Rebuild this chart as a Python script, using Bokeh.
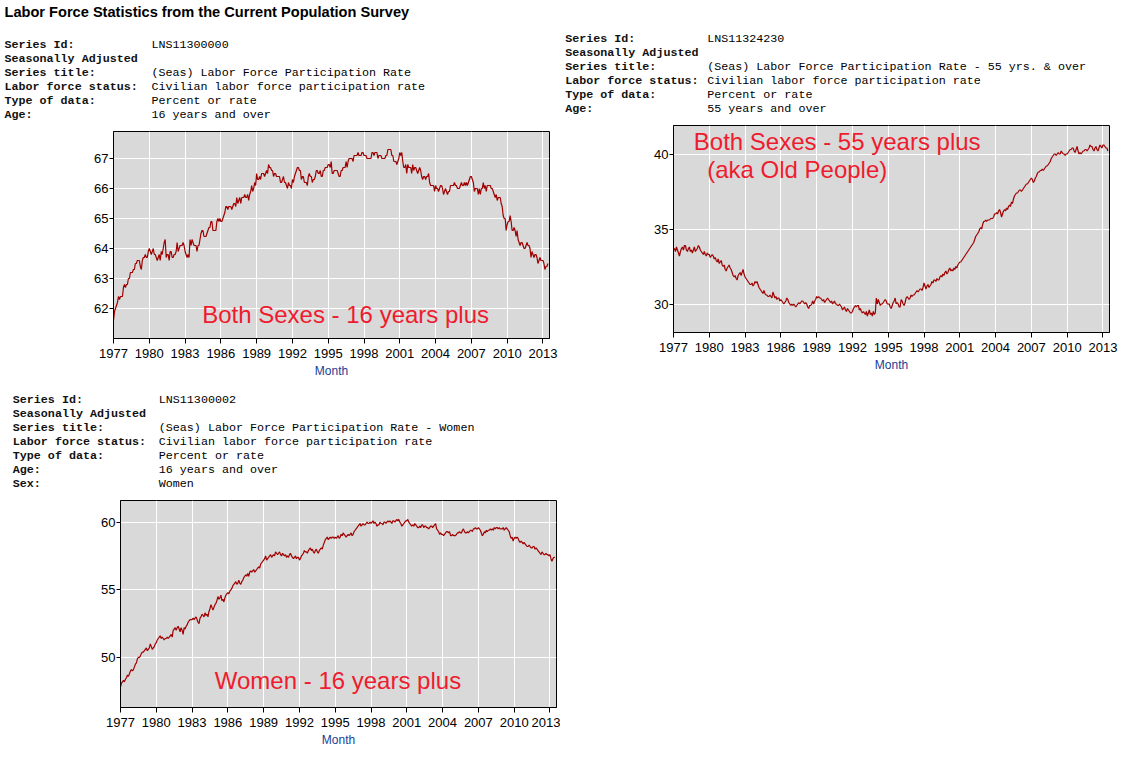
from bokeh.plotting import figure
from bokeh.models import Range1d, FixedTicker, Label, ColumnDataSource, Spacer
from bokeh.layouts import row, column
from bokeh.core.properties import value
from bokeh.embed import file_html
from bokeh.resources import INLINE

# ---------------- data ----------------
START_YEAR = 1977
x_ticks = [1977, 1980, 1983, 1986, 1989, 1992, 1995, 1998, 2001, 2004, 2007, 2010, 2013]

# LNS11300000 - participation rate, 16 years and over (monthly, Jan 1977 - Jun 2013)
all_16plus = [
    61.6, 61.9, 62.0, 62.1, 62.2, 62.4, 62.3, 62.4, 62.4, 62.4, 62.7, 62.8,
    62.7, 62.8, 62.8, 63.0, 63.0, 63.2, 63.2, 63.2, 63.3, 63.3, 63.5, 63.5,
    63.6, 63.6, 63.6, 63.4, 63.3, 63.6, 63.7, 63.7, 63.8, 63.7, 63.7, 63.9,
    64.0, 63.9, 63.8, 63.9, 64.0, 63.8, 63.8, 63.7, 63.6, 63.7, 63.8, 63.6,
    63.9, 63.8, 64.0, 64.2, 64.3, 63.7, 63.8, 63.8, 63.6, 63.9, 63.9, 63.7,
    63.7, 63.8, 63.8, 63.9, 64.2, 63.9, 64.0, 64.1, 64.1, 64.1, 64.2, 64.1,
    63.9, 63.8, 63.7, 63.8, 63.7, 64.3, 64.1, 64.3, 64.2, 64.1, 64.1, 64.1,
    63.9, 64.1, 64.1, 64.3, 64.5, 64.6, 64.6, 64.4, 64.4, 64.4, 64.5, 64.6,
    64.7, 64.7, 64.9, 64.9, 64.6, 64.6, 64.6, 64.6, 64.9, 65.0, 64.9, 65.0,
    64.9, 64.9, 65.0, 65.1, 65.2, 65.4, 65.4, 65.3, 65.4, 65.4, 65.4, 65.3,
    65.4, 65.5, 65.5, 65.4, 65.7, 65.5, 65.6, 65.7, 65.5, 65.7, 65.7, 65.7,
    65.8, 65.7, 65.7, 65.8, 65.6, 65.8, 65.9, 66.1, 65.9, 66.0, 66.2, 66.1,
    66.5, 66.3, 66.3, 66.4, 66.3, 66.5, 66.5, 66.5, 66.4, 66.5, 66.6, 66.5,
    66.8, 66.7, 66.7, 66.6, 66.6, 66.4, 66.5, 66.5, 66.4, 66.4, 66.4, 66.4,
    66.2, 66.2, 66.3, 66.4, 66.2, 66.2, 66.1, 66.0, 66.2, 66.1, 66.1, 66.0,
    66.3, 66.2, 66.4, 66.5, 66.6, 66.7, 66.7, 66.6, 66.6, 66.3, 66.4, 66.4,
    66.2, 66.2, 66.2, 66.1, 66.4, 66.5, 66.4, 66.4, 66.2, 66.3, 66.3, 66.4,
    66.6, 66.6, 66.5, 66.5, 66.6, 66.4, 66.4, 66.6, 66.6, 66.7, 66.7, 66.7,
    66.8, 66.8, 66.7, 66.9, 66.5, 66.5, 66.6, 66.6, 66.6, 66.6, 66.5, 66.4,
    66.4, 66.6, 66.6, 66.7, 66.7, 66.7, 66.9, 66.7, 66.9, 67.0, 67.0, 67.0,
    67.0, 66.9, 67.1, 67.1, 67.1, 67.1, 67.2, 67.1, 67.1, 67.1, 67.2, 67.2,
    67.1, 67.1, 67.1, 67.0, 67.0, 67.0, 67.0, 67.0, 67.2, 67.2, 67.1, 67.2,
    67.2, 67.2, 67.0, 67.1, 67.1, 67.1, 67.0, 67.0, 67.0, 67.0, 67.1, 67.1,
    67.3, 67.3, 67.3, 67.3, 67.1, 67.1, 66.9, 66.9, 66.9, 66.8, 66.9, 67.0,
    67.2, 67.1, 67.2, 66.9, 66.7, 66.7, 66.8, 66.5, 66.8, 66.7, 66.7, 66.7,
    66.5, 66.8, 66.6, 66.7, 66.7, 66.6, 66.5, 66.6, 66.7, 66.6, 66.4, 66.3,
    66.4, 66.4, 66.3, 66.4, 66.4, 66.5, 66.2, 66.1, 66.1, 66.1, 66.1, 65.9,
    66.1, 66.0, 66.0, 65.9, 66.0, 66.1, 66.1, 66.0, 65.8, 65.9, 66.0, 65.9,
    65.8, 65.9, 65.9, 66.1, 66.1, 66.1, 66.1, 66.2, 66.1, 66.1, 66.0, 66.0,
    66.0, 66.1, 66.2, 66.1, 66.1, 66.2, 66.1, 66.2, 66.1, 66.2, 66.3, 66.4,
    66.4, 66.3, 66.2, 65.9, 66.0, 66.0, 66.0, 65.8, 66.0, 65.8, 66.0, 66.0,
    66.2, 66.0, 66.1, 65.9, 66.1, 66.1, 66.1, 66.1, 66.0, 66.0, 65.9, 65.8,
    65.7, 65.8, 65.6, 65.7, 65.7, 65.7, 65.5, 65.4, 65.1, 65.0, 65.0, 64.6,
    64.8, 64.9, 64.9, 65.1, 64.9, 64.6, 64.6, 64.7, 64.6, 64.4, 64.6, 64.3,
    64.2, 64.1, 64.2, 64.2, 64.1, 64.0, 64.0, 64.1, 64.2, 64.1, 64.1, 64.0,
    63.7, 63.9, 63.8, 63.7, 63.8, 63.8, 63.7, 63.5, 63.6, 63.7, 63.6, 63.6,
    63.6, 63.5, 63.3, 63.4, 63.4, 63.5,
]

# LNS11324230 - participation rate, 55 years and over
old_55plus = [
    33.6, 33.7, 33.5, 33.8, 33.6, 33.4, 33.2, 33.5, 33.7, 33.8, 33.6, 33.9,
    33.9, 33.6, 33.5, 33.7, 33.8, 33.5, 33.6, 33.4, 33.6, 33.8, 33.5, 33.6,
    33.7, 33.9, 33.8, 33.6, 33.5, 33.4, 33.3, 33.5, 33.3, 33.2, 33.4, 33.3,
    33.3, 33.1, 33.2, 33.3, 33.2, 33.0, 33.1, 32.9, 32.8, 33.0, 32.7, 32.8,
    32.9, 32.6, 32.5, 32.6, 32.3, 32.2, 32.4, 32.5, 32.6, 32.4, 32.3, 32.1,
    31.9, 31.8, 31.9, 31.7, 31.6, 31.9, 32.0, 32.1, 31.9, 32.1, 32.3, 32.0,
    31.8, 31.7, 31.6, 31.5, 31.4, 31.3, 31.3, 31.4, 31.2, 31.3, 31.5, 31.4,
    31.5, 31.3, 31.1, 31.0, 30.9, 30.8, 30.7, 30.9, 30.7, 30.6, 30.6, 30.5,
    30.5, 30.6, 30.5, 30.4, 30.8, 30.6, 30.4, 30.5, 30.3, 30.4, 30.4, 30.2,
    30.3, 30.2, 30.1, 30.0, 30.1, 30.2, 30.4, 30.3, 30.1, 30.0, 29.9, 30.0,
    29.9, 30.0, 29.9, 29.8, 29.9, 30.0, 30.1, 30.0, 30.1, 30.2, 30.2, 30.1,
    30.0, 30.1, 30.0, 29.8, 29.7, 29.9, 29.9, 30.0, 30.2, 30.0, 30.2, 30.3,
    30.5, 30.4, 30.5, 30.4, 30.4, 30.3, 30.2, 30.3, 30.1, 30.2, 30.3, 30.4,
    30.3, 30.2, 30.1, 30.2, 30.0, 30.1, 30.2, 30.0, 30.0, 29.9, 29.9, 30.0,
    29.9, 29.8, 29.6, 29.7, 29.8, 29.6, 29.5, 29.7, 29.6, 29.5, 29.4, 29.4,
    29.5, 29.7, 29.8, 29.9, 29.8, 29.9, 29.9, 29.6, 29.7, 29.5, 29.4, 29.5,
    29.4, 29.3, 29.5, 29.2, 29.4, 29.6, 29.3, 29.4, 29.2, 29.5, 29.3, 29.4,
    30.4, 30.0, 30.3, 30.1, 29.9, 30.0, 30.0, 30.1, 30.2, 30.3, 30.2, 30.0,
    30.0, 30.0, 29.8, 29.7, 29.9, 30.1, 30.2, 30.4, 30.0, 30.1, 30.0, 29.8,
    29.8, 30.3, 30.2, 30.0, 29.9, 30.1, 30.4, 30.5, 30.4, 30.3, 30.4, 30.6,
    30.5, 30.6, 30.6, 30.7, 30.8, 30.9, 30.8, 30.9, 31.0, 31.0, 30.9, 31.1,
    31.4, 31.2, 31.0, 31.2, 31.3, 31.1, 31.2, 31.3, 31.5, 31.4, 31.6, 31.6,
    31.5, 31.7, 31.6, 31.6, 31.8, 31.9, 31.8, 32.0, 31.9, 32.1, 32.2, 32.0,
    32.1, 32.3, 32.4, 32.2, 32.3, 32.2, 32.4, 32.3, 32.5, 32.4, 32.6, 32.7,
    32.8, 32.8, 32.9, 33.0, 33.1, 33.2, 33.3, 33.4, 33.5, 33.6, 33.7, 33.8,
    33.9, 34.0, 34.1, 34.3, 34.5, 34.6, 34.7, 34.8, 35.0, 35.1, 35.0, 35.3,
    35.5, 35.5, 35.6, 35.5, 35.6, 35.6, 35.6, 35.7, 35.7, 35.7, 35.8, 36.0,
    36.0, 36.1, 36.0, 36.2, 36.3, 36.1, 35.8, 36.0, 36.2, 36.3, 36.2, 36.4,
    36.3, 36.5, 36.6, 36.5, 36.8, 36.7, 37.0, 37.2, 37.3, 37.4, 37.4, 37.5,
    37.6, 37.6, 37.5, 37.6, 37.7, 37.8, 37.9, 38.0, 38.0, 38.1, 38.2, 38.3,
    38.4, 38.3, 38.1, 38.2, 38.4, 38.5, 38.7, 38.8, 38.8, 38.9, 38.9, 39.0,
    38.9, 39.0, 39.1, 39.2, 39.2, 39.3, 39.4, 39.5, 39.7, 39.8, 39.9, 40.0,
    40.0, 39.9, 40.0, 40.1, 40.0, 40.0, 40.2, 40.1, 40.0, 40.0, 39.9, 40.0,
    40.0, 40.1, 40.2, 40.3, 40.3, 40.4, 40.4, 40.2, 40.1, 40.3, 40.5, 40.2,
    40.0, 40.1, 40.0, 40.1, 40.2, 40.2, 40.3, 40.3, 40.2, 40.3, 40.4, 40.6,
    40.5, 40.5, 40.3, 40.2, 40.4, 40.5, 40.3, 40.2, 40.4, 40.6, 40.5, 40.4,
    40.6, 40.6, 40.5, 40.4, 40.4, 40.2,
]

# LNS11300002 - participation rate, women 16 years and over
women_16plus = [
    47.8, 48.1, 48.2, 48.3, 48.2, 48.4, 48.5, 48.7, 48.6, 48.8, 49.0, 49.1,
    49.0, 49.1, 49.3, 49.5, 49.6, 49.9, 50.0, 50.0, 50.1, 50.3, 50.4, 50.4,
    50.5, 50.6, 50.7, 50.5, 50.6, 50.7, 51.0, 50.8, 50.6, 50.7, 50.8, 51.0,
    51.1, 51.3, 51.4, 51.5, 51.6, 51.4, 51.5, 51.4, 51.3, 51.4, 51.4, 51.5,
    51.4, 51.5, 51.6, 51.7, 51.5, 52.0, 52.1, 52.2, 52.0, 52.2, 52.3, 52.1,
    51.9, 52.2, 52.0, 51.7, 52.2, 52.1, 52.3, 52.4, 52.6, 52.7, 52.8, 52.8,
    52.8, 52.9, 52.8, 52.9, 53.0, 52.8, 52.6, 52.5, 52.9, 53.0, 53.2, 53.1,
    53.0, 53.3, 53.1, 53.2, 53.0, 53.4, 53.6, 53.9, 53.7, 53.5, 53.7, 53.9,
    54.0, 54.2, 54.5, 54.3, 54.4, 54.6, 54.2, 54.3, 54.1, 54.4, 54.6, 54.7,
    54.8, 54.7, 54.9, 55.0, 55.1, 55.3, 55.4, 55.5, 55.6, 55.4, 55.5, 55.7,
    55.5, 55.4, 55.6, 55.7, 55.9, 56.0, 56.1, 56.0, 56.2, 56.0, 56.3, 56.4,
    56.3, 56.4, 56.5, 56.3, 56.4, 56.5, 56.6, 56.7, 56.6, 56.9, 57.0, 57.1,
    57.2, 57.3, 57.5, 57.2, 57.3, 57.4, 57.5, 57.6, 57.4, 57.5, 57.6, 57.5,
    57.8, 57.7, 57.6, 57.7, 57.8, 57.6, 57.5, 57.7, 57.6, 57.5, 57.6, 57.4,
    57.5, 57.4, 57.6, 57.7, 57.5, 57.4, 57.3, 57.4, 57.5, 57.3, 57.4, 57.4,
    57.2, 57.3, 57.5, 57.6, 57.7, 57.9, 57.8, 57.8, 57.7, 57.9, 58.0, 58.1,
    57.9, 58.0, 57.8, 57.7, 57.9, 58.0, 57.8, 57.7, 57.9, 58.0, 58.1, 58.0,
    58.3, 58.5, 58.7, 58.8, 58.9, 58.7, 58.8, 58.9, 58.8, 58.9, 58.9, 58.8,
    58.9, 58.8, 58.9, 59.0, 58.8, 58.9, 59.1, 59.0, 59.2, 59.1, 59.0, 58.9,
    59.0, 59.1, 59.0, 59.1, 59.2, 59.0, 59.1, 59.3, 59.4, 59.5, 59.6, 59.7,
    59.8, 59.9, 59.7, 59.8, 59.9, 59.8, 59.8, 59.9, 60.0, 59.9, 59.9, 60.0,
    59.9, 60.0, 60.1, 59.9, 60.0, 59.9, 59.7, 59.8, 59.8, 60.0, 59.9, 59.9,
    59.8, 60.0, 60.0, 59.9, 60.0, 60.1, 60.0, 60.1, 60.0, 59.9, 60.1, 60.1,
    60.0, 60.1, 60.2, 60.1, 60.2, 60.0, 59.9, 59.7, 59.8, 59.9, 60.0, 60.1,
    60.1, 60.2, 60.0, 59.9, 59.8, 59.7, 59.8, 59.7, 59.9, 59.8, 59.7, 59.6,
    59.6, 59.7, 59.6, 59.8, 59.8, 59.6, 59.7, 59.7, 59.6, 59.6, 59.5, 59.6,
    59.7, 59.7, 59.6, 59.7, 59.8, 59.9, 59.5, 59.4, 59.3, 59.1, 59.2, 59.1,
    59.1, 59.0, 59.1, 59.2, 59.3, 59.3, 59.2, 59.3, 59.0, 59.0, 59.1, 59.0,
    59.0, 59.0, 59.1, 59.2, 59.2, 59.3, 59.2, 59.2, 59.4, 59.5, 59.3, 59.2,
    59.2, 59.3, 59.2, 59.3, 59.4, 59.4, 59.3, 59.5, 59.5, 59.6, 59.5, 59.5,
    59.6, 59.5, 59.4, 59.2, 59.0, 59.1, 59.3, 59.2, 59.4, 59.3, 59.4, 59.4,
    59.5, 59.4, 59.5, 59.4, 59.6, 59.5, 59.6, 59.6, 59.5, 59.6, 59.5, 59.5,
    59.5, 59.6, 59.4, 59.5, 59.6, 59.5, 59.4, 59.3, 59.0, 58.8, 58.9, 58.6,
    58.8, 58.9, 58.8, 58.9, 58.8, 58.6, 58.5, 58.6, 58.5, 58.4, 58.5, 58.4,
    58.3, 58.2, 58.2, 58.3, 58.2, 58.1, 58.1, 58.2, 58.2, 58.0, 58.1, 58.0,
    57.9, 57.8, 57.7, 57.6, 57.8, 57.7, 57.6, 57.6, 57.7, 57.6, 57.6, 57.5,
    57.6, 57.3, 57.1, 57.3, 57.4, 57.4,
]

page_title = "Labor Force Statistics from the Current Population Survey"

header_all = [
    ("Series Id:", "LNS11300000"),
    ("Seasonally Adjusted", ""),
    ("Series title:", "(Seas) Labor Force Participation Rate"),
    ("Labor force status:", "Civilian labor force participation rate"),
    ("Type of data:", "Percent or rate"),
    ("Age:", "16 years and over"),
]
header_old = [
    ("Series Id:", "LNS11324230"),
    ("Seasonally Adjusted", ""),
    ("Series title:", "(Seas) Labor Force Participation Rate - 55 yrs. & over"),
    ("Labor force status:", "Civilian labor force participation rate"),
    ("Type of data:", "Percent or rate"),
    ("Age:", "55 years and over"),
]
header_women = [
    ("Series Id:", "LNS11300002"),
    ("Seasonally Adjusted", ""),
    ("Series title:", "(Seas) Labor Force Participation Rate - Women"),
    ("Labor force status:", "Civilian labor force participation rate"),
    ("Type of data:", "Percent or rate"),
    ("Age:", "16 years and over"),
    ("Sex:", "Women"),
]

note_all = ["Both Sexes - 16 years plus"]
note_old = ["Both Sexes - 55 years plus", "(aka Old People)"]
note_women = ["Women - 16 years plus"]

# ---------------- styling ----------------
LINE_COLOR = "#A00000"
NOTE_COLOR = "#EE1C2E"
BG = "#D9D9D9"
MONO = "Liberation Mono"
SANS = "Liberation Sans"
HEAD_SIZE = "11.7px"
FRAME_W = 436
FRAME_H = 207


def make_header(width, height, rows, x_label, x_value, y0, title=None):
    h = figure(width=width, height=height, output_backend="svg",
               toolbar_location=None, x_range=Range1d(0, width),
               y_range=Range1d(height, 0), x_axis_type=None, y_axis_type=None,
               min_border=0, outline_line_color=None)
    h.background_fill_color = "white"
    h.border_fill_color = "white"
    ys = [y0 + 14 * i for i in range(len(rows))]
    labs = [r[0] for r in rows]
    vals = [r[1] for r in rows]
    h.text(x=[x_label] * len(rows), y=ys, text=labs, text_font=value(MONO),
           text_font_size=HEAD_SIZE, text_font_style="bold",
           text_baseline="middle", text_align="left", text_color="#111111")
    h.text(x=[x_value] * len(rows), y=ys, text=vals, text_font=value(MONO),
           text_font_size=HEAD_SIZE, text_baseline="middle",
           text_align="left", text_color="black")
    if title:
        h.text(x=[4], y=[11], text=[title], text_font=value(SANS),
               text_font_size="14.6px", text_font_style="bold",
               text_baseline="middle", text_align="left", text_color="black")
    return h


def make_chart(values, y0, y1, yticks, width, left, top, bottom,
               notes, note_xs, note_y0):
    height = top + FRAME_H + bottom
    right = width - left - FRAME_W
    p = figure(width=width, height=height, output_backend="svg",
               toolbar_location=None, x_range=Range1d(START_YEAR, 2013.55),
               y_range=Range1d(y0, y1), min_border_left=left,
               min_border_right=right, min_border_top=top,
               min_border_bottom=bottom)
    xs = [START_YEAR + i / 12 for i in range(len(values))]
    src = ColumnDataSource(dict(x=xs, y=values))
    p.line("x", "y", source=src, line_color=LINE_COLOR, line_width=1.2)

    p.background_fill_color = BG
    p.border_fill_color = "white"
    p.outline_line_color = "black"
    p.outline_line_width = 1
    p.outline_line_alpha = 1
    p.grid.grid_line_color = "white"
    p.grid.grid_line_width = 1
    p.xaxis.ticker = FixedTicker(ticks=x_ticks)
    p.yaxis.ticker = FixedTicker(ticks=yticks)
    for ax in (p.xaxis, p.yaxis):
        ax.axis_line_color = "black"
        ax.major_tick_line_color = "black"
        ax.minor_tick_line_color = None
        ax.major_tick_in = 0
        ax.major_label_text_font = SANS
        ax.major_label_text_font_size = "13px"
        ax.major_label_text_color = "black"
    p.xaxis.major_tick_out = 5
    p.xaxis.major_label_standoff = 5
    p.yaxis.major_tick_out = 4
    p.yaxis.major_label_standoff = 1
    p.xaxis.axis_label = "Month"
    p.xaxis.axis_label_text_font = SANS
    p.xaxis.axis_label_text_font_size = "12px"
    p.xaxis.axis_label_text_font_style = "normal"
    p.xaxis.axis_label_text_color = "#1A3C96"
    p.xaxis.axis_label_standoff = 3

    fb = top + FRAME_H  # frame bottom in canvas px
    for i, t in enumerate(notes):
        cy = note_y0 + 28.6 * i
        p.add_layout(Label(x=note_xs[i] - left, y=fb - cy, x_units="screen",
                           y_units="screen", text=t, text_font=SANS,
                           text_font_size="24px", text_color=NOTE_COLOR,
                           text_align="left", text_baseline="middle"))
    return p


# top-left block: header 0..121, chart frame 131..338
h1 = make_header(560, 121, header_all, 4, 151, 44.5, title=page_title)
p1 = make_chart(all_16plus, 61.0, 67.9, [62, 63, 64, 65, 66, 67], 560,
                113, 10, 47, note_all, [201.7], 192.7)
# top-right block: header 0..115, chart frame 125..332
h2 = make_header(586, 115, header_old, 4.7, 146.7, 38.3)
p2 = make_chart(old_55plus, 28.1, 41.9, [30, 35, 40], 586,
                113, 10, 47, note_old, [133.3, 146.7], 25.7)
# bottom-left block: header 385..490, chart frame 500..707
h3 = make_header(560, 105, header_women, 12.3, 158.3, 14.7)
p3 = make_chart(women_16plus, 46.3, 61.6, [50, 55, 60], 560,
                120, 10, 50, note_women, [214.3], 190)

# each figure wrapped in its own row so that frames are not aligned
left_block = column(row(h1), row(p1))
right_block = column(row(h2), row(p2), Spacer(width=586, height=6))
bottom_block = column(row(h3), row(p3))
layout = column(row(left_block, right_block), row(bottom_block))
open("out.html", "w").write(file_html(layout, INLINE))
